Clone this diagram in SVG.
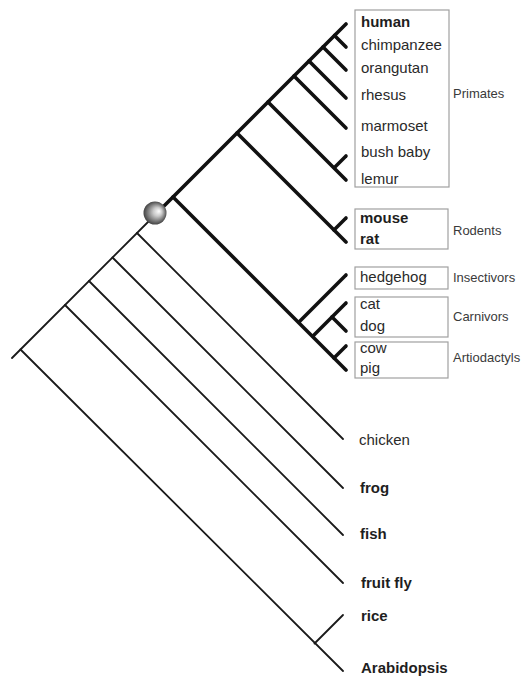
<svg xmlns="http://www.w3.org/2000/svg" width="525" height="678" viewBox="0 0 525 678">
<style>
.thin{fill:none;stroke:#1a1a1a;stroke-width:1.8;stroke-linecap:round}
.thick{fill:none;stroke:#111;stroke-width:3.6;stroke-linecap:round}
.box{fill:none;stroke:#a0a0a0;stroke-width:1.2}
.lb{font-family:"Liberation Sans",Arial,sans-serif;font-size:15px;font-weight:bold;fill:#1e1e1e}
.lr{font-family:"Liberation Sans",Arial,sans-serif;font-size:15px;fill:#2a2a2a}
.grp{font-family:"Liberation Sans",Arial,sans-serif;font-size:13px;fill:#3a3a3a}
</style>
<defs>
<radialGradient id="ball" cx="0.5" cy="0.5" r="0.55" fx="0.68" fy="0.42">
<stop offset="0" stop-color="#ffffff"/>
<stop offset="0.35" stop-color="#c8c8c8"/>
<stop offset="0.8" stop-color="#5f5f5f"/>
<stop offset="1" stop-color="#333333"/>
</radialGradient>
</defs>
<rect width="525" height="678" fill="#ffffff"/>
<g id="connectors">
<path class="thin" d="M12,358 L156,214"/>
<path class="thin" d="M20.5,349.5 L343,671"/>
<path class="thin" d="M314.5,643.5 L343,615"/>
<path class="thin" d="M65,305 L343,583"/>
<path class="thin" d="M89,281 L343,535"/>
<path class="thin" d="M112.5,257.5 L343,488"/>
<path class="thin" d="M137,233 L343,439"/>
<path class="thick" d="M156,214 L346,24"/>
<path class="thick" d="M334.5,35.5 L346,47"/>
<path class="thick" d="M323,47 L346,70"/>
<path class="thick" d="M309,61 L346,98"/>
<path class="thick" d="M294,76 L346,128"/>
<path class="thick" d="M268,102 L346,180"/>
<path class="thick" d="M334.5,167.5 L346,156"/>
<path class="thick" d="M237,133 L346,242"/>
<path class="thick" d="M334,230 L346,218"/>
<path class="thick" d="M173,197 L346,370"/>
<path class="thick" d="M299,322 L346,275"/>
<path class="thick" d="M313,336 L346,303"/>
<path class="thick" d="M332,317 L346,331"/>
<path class="thick" d="M334,358 L346,346"/>
</g>
<g id="eutheria-node">
<circle cx="155" cy="213" r="11.5" fill="url(#ball)"/>
</g>
<g id="primates">
<rect class="box" x="355" y="10" width="94" height="177"/>
<text class="lb" x="361" y="27">human</text>
<text class="lr" x="361" y="50">chimpanzee</text>
<text class="lr" x="361" y="73">orangutan</text>
<text class="lr" x="361" y="100">rhesus</text>
<text class="lr" x="361" y="131">marmoset</text>
<text class="lr" x="361" y="157">bush baby</text>
<text class="lr" x="361" y="184">lemur</text>
<text class="grp" x="453" y="98">Primates</text>
</g>
<g id="rodents">
<rect class="box" x="355" y="209" width="93" height="40"/>
<text class="lb" x="360" y="223">mouse</text>
<text class="lb" x="360" y="244">rat</text>
<text class="grp" x="453" y="235">Rodents</text>
</g>
<g id="insectivors">
<rect class="box" x="355" y="267" width="93" height="22"/>
<text class="lr" x="360" y="282">hedgehog</text>
<text class="grp" x="453" y="282">Insectivors</text>
</g>
<g id="carnivors">
<rect class="box" x="355" y="297" width="93" height="40"/>
<text class="lr" x="360" y="309">cat</text>
<text class="lr" x="360" y="331">dog</text>
<text class="grp" x="453" y="321">Carnivors</text>
</g>
<g id="artiodactyls">
<rect class="box" x="355" y="342" width="93" height="36"/>
<text class="lr" x="360" y="353">cow</text>
<text class="lr" x="360" y="373">pig</text>
<text class="grp" x="453" y="362">Artiodactyls</text>
</g>
<g id="chicken"><text class="lr" x="359" y="445" fill="#3a3a3a">chicken</text></g>
<g id="frog"><text class="lb" x="360" y="493">frog</text></g>
<g id="fish"><text class="lb" x="360" y="539">fish</text></g>
<g id="fruitfly"><text class="lb" x="361" y="588">fruit fly</text></g>
<g id="rice"><text class="lb" x="361" y="621">rice</text></g>
<g id="arabidopsis"><text class="lb" x="361" y="673">Arabidopsis</text></g>
</svg>
